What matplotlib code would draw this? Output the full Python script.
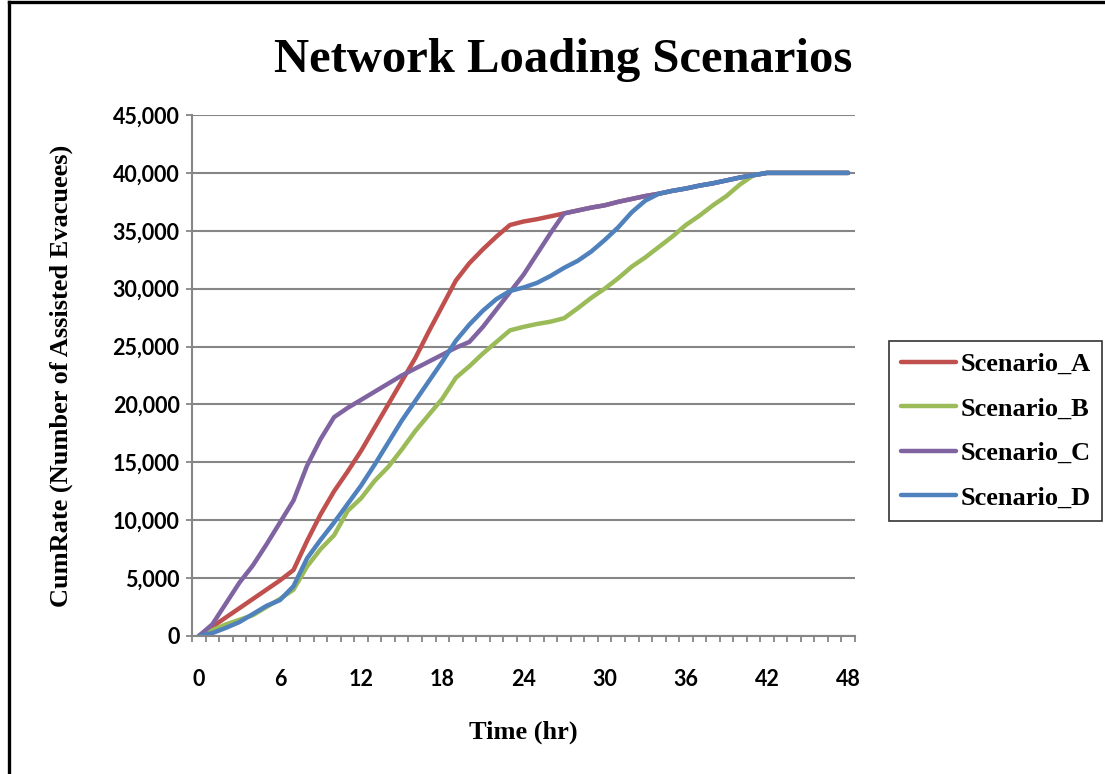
import numpy as np
import matplotlib
matplotlib.use("Agg")
import matplotlib.pyplot as plt
from matplotlib.lines import Line2D
from matplotlib.ticker import FixedLocator, StrMethodFormatter

# hours 0..48, cumulative assisted evacuees
hours = list(range(49))

scenario_a = [0, 800, 1600, 2400, 3200, 4000, 4800, 5700, 8200, 10500,
              12500, 14200, 16000, 18000, 20000, 22000, 24000, 26300, 28500, 30700,
              32200, 33400, 34500, 35500, 35800, 36000, 36250, 36500, 36750, 37000,
              37200, 37500, 37750, 38000, 38200, 38450, 38650, 38900, 39100, 39350,
              39600, 39800, 40000, 40000, 40000, 40000, 40000, 40000, 40000]

scenario_b = [0, 500, 1000, 1400, 1800, 2500, 3200, 4000, 6000, 7500,
              8700, 10800, 11900, 13400, 14600, 16100, 17700, 19100, 20500, 22300,
              23300, 24400, 25400, 26400, 26700, 26950, 27150, 27450, 28300, 29200,
              30000, 30900, 31900, 32700, 33600, 34500, 35500, 36300, 37200, 38000,
              39000, 39800, 40000, 40000, 40000, 40000, 40000, 40000, 40000]

scenario_c = [0, 1000, 2800, 4600, 6100, 7900, 9800, 11700, 14700, 17000,
              18900, 19700, 20400, 21100, 21800, 22500, 23100, 23700, 24300, 24900,
              25400, 26700, 28200, 29700, 31200, 33000, 34800, 36500, 36750, 37000,
              37200, 37500, 37750, 38000, 38200, 38450, 38650, 38900, 39100, 39350,
              39600, 39800, 40000, 40000, 40000, 40000, 40000, 40000, 40000]

scenario_d = [0, 250, 700, 1200, 1900, 2600, 3100, 4300, 6700, 8300,
              9800, 11400, 13000, 14800, 16700, 18600, 20300, 22000, 23700, 25500,
              26900, 28100, 29100, 29800, 30100, 30500, 31100, 31800, 32400, 33200,
              34200, 35300, 36600, 37600, 38200, 38450, 38650, 38900, 39100, 39350,
              39600, 39800, 40000, 40000, 40000, 40000, 40000, 40000, 40000]

series_names = ["Scenario_A", "Scenario_B", "Scenario_C", "Scenario_D"]
series_colors = ["#C0504D", "#9BBB59", "#8064A2", "#4F81BD"]
x_labels = [0, 6, 12, 18, 24, 30, 36, 42, 48]

serif = ["Liberation Serif", "DejaVu Serif"]
sans = ["Lato", "DejaVu Sans"]
grey = "#868686"

fig = plt.figure(figsize=(11.05, 7.74), dpi=100)
ax = fig.add_axes([192 / 1105, 1 - 636 / 774, 663 / 1105, 521 / 774])

for vals, name, col in zip([scenario_a, scenario_b, scenario_c, scenario_d],
                           series_names, series_colors):
    ax.plot(hours, vals, color=col, lw=3.2, label=name,
            solid_capstyle="round", solid_joinstyle="round")

ax.set_xlim(-0.5, 48.5)
ax.set_ylim(0, 45000)

# category-style axis: tick marks between hours, labels every 6 h
ax.xaxis.set_major_locator(FixedLocator(x_labels))
ax.xaxis.set_minor_locator(FixedLocator(np.arange(-0.5, 49, 1.0)))
ax.tick_params(axis="x", which="major", length=0, pad=24)
ax.tick_params(axis="x", which="minor", length=4.5, width=1.3, color=grey)
ax.set_yticks(np.arange(0, 45001, 5000))
ax.yaxis.set_major_formatter(StrMethodFormatter("{x:,.0f}"))
ax.tick_params(axis="y", length=4, width=1.3, color=grey, pad=5)

for lab in ax.get_xticklabels() + ax.get_yticklabels():
    lab.set_fontfamily(sans)
    lab.set_fontweight("bold")
    lab.set_fontsize(15.5)

ax.grid(axis="y", color=grey, lw=1.5)
ax.set_axisbelow(True)
for s in ["top", "right"]:
    ax.spines[s].set_visible(False)
for s in ["left", "bottom"]:
    ax.spines[s].set_color(grey)
    ax.spines[s].set_linewidth(1.5)

ax.set_xlabel("Time (hr)", family=serif, fontweight="bold", fontsize=19)
ax.xaxis.set_label_coords(0.499, -0.163)
ax.set_ylabel("CumRate (Number of Assisted Evacuees)", family=serif,
              fontweight="bold", fontsize=19)
ax.yaxis.set_label_coords(-0.1795, 0.5)

fig.text(563 / 1105, 1 - 60 / 774, "Network Loading Scenarios", family=serif,
         fontweight="bold", fontsize=35, ha="center", va="center")

leg = fig.legend(loc="center left", bbox_to_anchor=(889 / 1105, 1 - 431 / 774),
                 prop={"family": serif, "weight": "bold", "size": 19},
                 frameon=True, fancybox=False, borderaxespad=0,
                 handlelength=2.1, handletextpad=0.15, labelspacing=0.8,
                 borderpad=0.45)
leg.get_frame().set_edgecolor("black")
leg.get_frame().set_linewidth(1.2)

# outer frame (left and top edges)
fig.add_artist(Line2D([8.5 / 1105, 8.5 / 1105], [0, 1 - 1.5 / 774],
                      color="black", lw=2.4, transform=fig.transFigure))
fig.add_artist(Line2D([8.5 / 1105, 1], [1 - 1.5 / 774, 1 - 1.5 / 774],
                      color="black", lw=2.4, transform=fig.transFigure))

fig.savefig("out.png", dpi=100)
